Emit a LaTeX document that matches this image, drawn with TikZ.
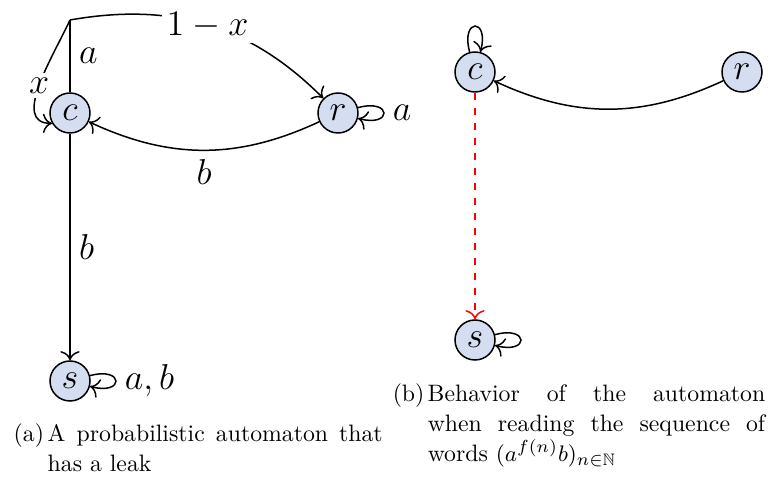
\documentclass[tikz,border=0pt]{standalone}
\usepackage{amssymb}
\usepackage{tikz}
\usetikzlibrary{arrows.meta}
\definecolor{statefill}{RGB}{213,222,240}
\tikzset{
	state node/.style={
		circle,
		draw,
		fill=statefill,
		minimum size=16pt,
		inner sep=0pt
	},
	edge label/.style={
		fill=white,
		inner sep=2pt
	},
	caption/.style={
		anchor=base west,
		inner sep=0pt,
		font=\fontsize{9.5}{12}\selectfont
	},
}
\begin{document}
\begin{tikzpicture}[x=0.4pt, y=0.4pt, >={To[scale=1.25]}, line width=0.6pt, font=\fontsize{14}{16}\selectfont]

\useasboundingbox (0,0) rectangle (768,480);

% (a) the automaton
\foreach \n/\x/\y in {c/70/367, r/338/367, s/70/99}
	\node [state node] (left-\n) at (\x,\y) {$\n$};

\coordinate (split) at (70,460);

\draw (left-c) -- node [right] {$a$} (split);
\draw [->] (split) to [out=10, in=135] node [edge label] {$1-x$} (left-r);
\draw [->] (split) to [out=245, in=180] node [edge label] {$x$} (left-c.210);
\draw [->] (left-r) to [bend left=25] node [below] {$b$} (left-c);
\draw [->] (left-r) to [loop right] node [right] {$a$} (left-r);
\draw [->] (left-c) -- node [right] {$b$} (left-s);
\draw [->] (left-s) to [loop right] node [right] {$a,b$} (left-s);

% (b) its behavior
\foreach \n/\x/\y in {c/475/408, r/742/408, s/475/140}
	\node [state node] (right-\n) at (\x,\y) {$\n$};

\draw [->] (right-c) to [loop above] (right-c);
\draw [->] (right-r) to [bend left=25] (right-c);
\draw [->, red, dashed] (right-c) -- (right-s);
\draw [->] (right-s) to [loop right] (right-s);

% captions
\node [caption] (caption-a) at (13,38)
	{\makebox[13.6pt][l]{(a)}\parbox[t]{134pt}{A probabilistic automaton that\linebreak has a leak}};
\node [caption] (caption-b) at (392,78)
	{\makebox[14pt][l]{(b)}\parbox[t]{135pt}{Behavior of the automaton\linebreak when reading the sequence of\linebreak words $(a^{f(n)}b)_{n\in\mathbb{N}}$}};

\end{tikzpicture}
\end{document}
